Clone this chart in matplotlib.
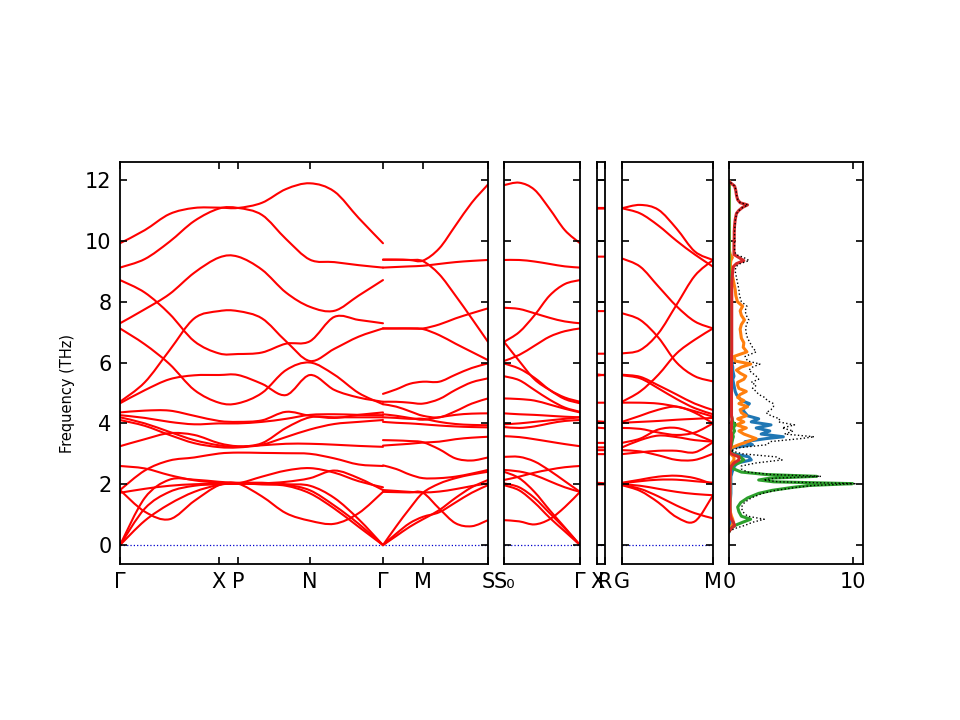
import numpy as np
import matplotlib
matplotlib.use("Agg")
import matplotlib.pyplot as plt
from matplotlib.path import Path
from matplotlib.patches import PathPatch

# ---------------- high-symmetry paths (distances along q-path) ----------------
p1_labels = ["Γ", "X", "P", "N", "Γ", "M", "S"]
p1_pos = [0.0, 0.99, 1.18, 1.90, 2.63, 3.03, 3.68]
p2_labels = ["S₀", "Γ"]
p2_pos = [0.0, 0.76]
p3_labels = ["X", "R"]
p3_pos = [0.0, 0.08]
p4_labels = ["G", "M"]
p4_pos = [0.0, 0.91]

# sample fractions along each segment where frequencies were read
fr_GX = [0.0, 0.25, 0.5, 0.75, 1.0]
fr_PN = [1 / 3, 2 / 3, 1.0]
fr_NG = [1 / 3, 2 / 3, 1.0]
fr_GM = [0.0, 1 / 3, 2 / 3, 1.0]
fr_MS = [0.25, 0.5, 0.75, 1.0]
fr_5 = [0.0, 0.2, 0.4, 0.6, 0.8, 1.0]

# ---------------- bands: Γ-X-P-N-Γ (THz) ----------------
bands_A = [
    [9.92, 10.35, 10.88, 11.08, 11.09, 11.08, 11.25, 11.70, 11.89, 11.62, 10.75, 9.92],
    [9.12, 9.40, 9.97, 10.65, 11.06, 11.08, 10.85, 10.06, 9.38, 9.30, 9.20, 9.12],
    [7.29, 7.75, 8.25, 8.95, 9.45, 9.48, 9.05, 8.30, 7.83, 7.70, 8.20, 8.71],
    [8.71, 8.30, 7.60, 6.70, 6.30, 6.28, 6.33, 6.62, 6.70, 7.50, 7.40, 7.29],
    [4.71, 5.35, 6.40, 7.45, 7.69, 7.69, 7.45, 6.70, 6.05, 6.45, 6.85, 7.12],
    [7.12, 6.60, 5.95, 5.10, 4.68, 4.66, 5.00, 5.75, 6.00, 5.60, 5.00, 4.63],
    [4.66, 5.09, 5.45, 5.58, 5.59, 5.59, 5.30, 4.93, 5.59, 5.10, 4.85, 4.71],
    [4.36, 4.42, 4.42, 4.25, 4.08, 4.05, 4.10, 4.38, 4.25, 4.18, 4.28, 4.36],
    [4.27, 4.18, 4.05, 3.97, 4.00, 4.00, 4.05, 4.15, 4.28, 4.30, 4.28, 4.27],
    [4.20, 4.00, 3.72, 3.45, 3.28, 3.23, 3.35, 3.85, 4.20, 4.20, 4.20, 4.20],
    [4.11, 3.92, 3.62, 3.35, 3.22, 3.21, 3.30, 3.55, 3.80, 3.98, 4.05, 4.11],
    [3.25, 3.48, 3.68, 3.62, 3.35, 3.25, 3.28, 3.33, 3.33, 3.30, 3.26, 3.23],
    [1.81, 2.45, 2.78, 2.88, 3.01, 3.04, 3.03, 3.02, 3.00, 2.85, 2.65, 2.60],
    [2.60, 2.52, 2.30, 2.13, 2.05, 2.03, 2.25, 2.45, 2.53, 2.38, 2.10, 1.90],
    [1.72, 1.85, 1.95, 2.00, 2.02, 2.02, 2.03, 2.08, 2.20, 2.45, 2.20, 1.81],
    [1.81, 1.10, 0.85, 1.45, 1.97, 2.02, 1.60, 1.05, 0.80, 0.70, 1.05, 1.75],
    [0.00, 1.20, 1.75, 1.95, 2.00, 2.02, 2.00, 1.98, 1.80, 1.30, 0.70, 0.00],
    [0.00, 0.80, 1.35, 1.75, 1.98, 2.02, 2.00, 1.95, 1.70, 1.20, 0.60, 0.00],
    [0.00, 1.55, 2.15, 2.15, 2.08, 2.05, 2.05, 2.00, 1.95, 1.55, 0.85, 0.00],
]

# ---------------- bands: Γ-M-S ----------------
bands_B = [
    [9.38, 9.38, 9.37, 9.33, 8.90, 8.20, 7.45, 6.68],
    [9.38, 9.38, 9.37, 9.35, 9.75, 10.50, 11.25, 11.85],
    [9.12, 9.14, 9.16, 9.18, 9.24, 9.30, 9.34, 9.37],
    [7.12, 7.12, 7.12, 7.12, 7.25, 7.45, 7.62, 7.78],
    [7.12, 7.12, 7.12, 7.10, 6.90, 6.62, 6.35, 6.08],
    [4.97, 5.12, 5.30, 5.37, 5.37, 5.60, 5.82, 5.97],
    [4.71, 4.71, 4.68, 4.65, 4.80, 5.10, 5.35, 5.48],
    [4.63, 4.55, 4.40, 4.25, 4.20, 4.40, 4.65, 4.82],
    [4.30, 4.25, 4.18, 4.12, 4.20, 4.28, 4.32, 4.33],
    [4.20, 4.18, 4.15, 4.15, 4.05, 3.98, 3.95, 3.94],
    [4.05, 4.02, 4.00, 3.97, 3.93, 3.90, 3.88, 3.87],
    [3.45, 3.44, 3.42, 3.38, 3.15, 2.85, 2.78, 2.88],
    [3.27, 3.30, 3.33, 3.37, 3.40, 3.48, 3.53, 3.56],
    [2.62, 2.50, 2.32, 2.20, 2.20, 2.25, 2.35, 2.47],
    [1.75, 1.74, 1.73, 1.72, 1.20, 0.72, 0.62, 0.82],
    [1.81, 1.78, 1.75, 1.73, 1.76, 1.84, 1.94, 2.03],
    [0.00, 0.62, 1.20, 1.72, 2.02, 2.20, 2.32, 2.41],
    [0.00, 0.38, 0.72, 0.93, 1.08, 1.40, 1.72, 1.97],
    [0.00, 0.30, 0.60, 0.85, 1.15, 1.55, 1.90, 2.14],
]

# ---------------- bands: S0-Γ ----------------
bands_C = [
    [11.83, 11.91, 11.68, 11.05, 10.35, 9.92],
    [9.37, 9.37, 9.32, 9.24, 9.16, 9.12],
    [6.68, 7.00, 7.55, 8.20, 8.58, 8.71],
    [7.80, 7.76, 7.62, 7.47, 7.35, 7.29],
    [6.05, 6.25, 6.55, 6.85, 7.03, 7.12],
    [6.68, 6.05, 5.45, 5.10, 4.85, 4.71],
    [5.97, 5.80, 5.50, 5.10, 4.80, 4.66],
    [5.55, 5.42, 5.10, 4.78, 4.52, 4.38],
    [4.82, 4.80, 4.75, 4.62, 4.48, 4.36],
    [4.33, 4.30, 4.28, 4.25, 4.22, 4.20],
    [3.97, 4.00, 4.05, 4.10, 4.15, 4.20],
    [3.88, 3.85, 3.90, 4.00, 4.08, 4.11],
    [3.58, 3.55, 3.48, 3.40, 3.32, 3.25],
    [2.90, 2.90, 2.75, 2.45, 2.10, 1.75],
    [2.14, 2.25, 2.38, 2.48, 2.56, 2.60],
    [2.47, 2.42, 2.30, 2.10, 1.90, 1.75],
    [0.82, 0.78, 0.68, 0.85, 1.25, 1.75],
    [2.03, 1.90, 1.55, 1.05, 0.55, 0.00],
    [1.97, 1.80, 1.40, 0.90, 0.45, 0.00],
    [2.41, 2.20, 1.75, 1.15, 0.58, 0.00],
]

# ---------------- bands: X-R ----------------
bands_D = [
    [11.08, 11.08], [11.06, 11.06], [9.48, 9.48], [7.69, 7.69], [6.29, 6.29],
    [5.61, 5.58], [5.57, 5.60], [4.68, 4.68], [4.07, 4.05], [4.01, 4.02],
    [3.86, 3.84], [3.36, 3.36], [3.21, 3.21], [3.12, 3.12], [2.99, 2.99],
    [2.05, 2.03], [2.02, 2.00], [1.99, 2.00],
]

# ---------------- bands: G-M ----------------
bands_E = [
    [11.07, 11.18, 11.02, 10.40, 9.65, 9.37],
    [11.07, 10.90, 10.50, 10.00, 9.55, 9.15],
    [9.42, 9.15, 8.50, 7.85, 7.35, 7.12],
    [7.62, 7.40, 6.82, 6.00, 5.55, 5.38],
    [6.30, 6.41, 6.96, 7.90, 8.85, 9.37],
    [4.71, 5.05, 5.60, 6.30, 6.75, 7.12],
    [5.60, 5.53, 5.25, 4.95, 4.65, 4.44],
    [5.58, 5.48, 5.15, 4.80, 4.50, 4.30],
    [4.68, 4.68, 4.65, 4.55, 4.40, 4.22],
    [4.05, 4.25, 4.45, 4.55, 4.35, 4.00],
    [4.02, 4.05, 4.08, 4.12, 4.15, 4.18],
    [3.85, 3.82, 3.70, 3.62, 3.70, 4.00],
    [3.36, 3.50, 3.80, 3.85, 3.65, 3.40],
    [3.21, 3.45, 3.60, 3.55, 3.45, 3.40],
    [3.12, 3.08, 2.95, 2.80, 2.80, 3.00],
    [2.99, 3.05, 3.10, 3.10, 3.05, 3.38],
    [2.05, 2.15, 2.25, 2.28, 2.20, 2.00],
    [2.03, 2.10, 2.15, 2.15, 2.10, 2.05],
    [2.00, 1.95, 1.85, 1.75, 1.68, 1.64],
    [1.98, 1.85, 1.60, 1.30, 1.05, 0.88],
    [1.97, 1.78, 1.40, 0.92, 0.78, 1.64],
]

# ---------------- projected DOS ----------------
dos_freq = [
    0.45, 0.55, 0.65, 0.75, 0.85, 0.95, 1.1, 1.25, 1.4, 1.55,
    1.7, 1.8, 1.9, 1.96, 2.02, 2.08, 2.14, 2.2, 2.26, 2.32,
    2.4, 2.5, 2.6, 2.7, 2.8, 2.9, 3.0, 3.1, 3.2, 3.3,
    3.4, 3.5, 3.56, 3.65, 3.75, 3.85, 3.95, 4.05, 4.15, 4.25,
    4.35, 4.45, 4.55, 4.65, 4.75, 4.85, 4.95, 5.05, 5.15, 5.25,
    5.35, 5.45, 5.55, 5.65, 5.75, 5.85, 5.95, 6.05, 6.2, 6.35,
    6.5, 6.65, 6.8, 6.95, 7.1, 7.25, 7.4, 7.55, 7.7, 7.85,
    8.0, 8.2, 8.4, 8.6, 8.8, 9.0, 9.15, 9.25, 9.35, 9.45,
    9.55, 9.7, 9.9, 10.1, 10.3, 10.5, 10.7, 10.9, 11.0, 11.1,
    11.18, 11.25, 11.35, 11.5, 11.65, 11.8, 11.88, 11.95,
]
dos_blue = [
    0.0, 0.03, 0.08, 0.1, 0.1, 0.1, 0.1, 0.1, 0.1, 0.12,
    0.15, 0.15, 0.15, 0.15, 0.15, 0.15, 0.15, 0.15, 0.15, 0.2,
    0.25, 0.35, 0.45, 0.7, 1.8, 1.6, 0.4, 0.05, 0.3, 1.9,
    1.3, 3.0, 4.4, 2.6, 3.3, 2.2, 3.4, 1.8, 2.4, 1.5,
    1.3, 1.1, 1.4, 1.65, 1.0, 0.8, 0.6, 0.5, 0.45, 0.4,
    0.35, 0.3, 0.4, 0.35, 0.3, 0.3, 0.25, 0.25, 0.2, 0.2,
    0.15, 0.15, 0.12, 0.1, 0.1, 0.1, 0.08, 0.08, 0.06, 0.06,
    0.05, 0.05, 0.04, 0.04, 0.03, 0.03, 0.03, 0.03, 0.03, 0.03,
    0.02, 0.02, 0.02, 0.02, 0.02, 0.02, 0.02, 0.02, 0.02, 0.02,
    0.02, 0.02, 0.02, 0.02, 0.02, 0.02, 0.02, 0.0,
]
dos_orange = [
    0.0, 0.1, 0.25, 0.35, 0.3, 0.2, 0.1, 0.08, 0.08, 0.08,
    0.08, 0.08, 0.08, 0.08, 0.08, 0.08, 0.08, 0.08, 0.08, 0.1,
    0.1, 0.1, 0.12, 0.2, 0.4, 0.4, 0.1, 0.02, 0.2, 0.8,
    1.5, 2.2, 1.8, 1.2, 0.8, 1.4, 0.6, 1.2, 0.7, 1.4,
    1.0, 0.9, 1.5, 0.8, 1.2, 0.7, 0.9, 1.4, 0.8, 0.7,
    0.7, 1.2, 1.36, 0.9, 0.6, 1.0, 1.76, 0.5, 0.4, 1.45,
    1.15, 1.2, 1.0, 0.95, 0.9, 1.0, 1.25, 1.0, 0.9, 1.1,
    0.68, 0.55, 0.5, 0.4, 0.3, 0.15, 0.12, 0.12, 0.15, 0.27,
    0.1, 0.02, 0.01, 0.01, 0.01, 0.01, 0.01, 0.01, 0.01, 0.01,
    0.01, 0.01, 0.01, 0.01, 0.01, 0.01, 0.01, 0.0,
]
dos_green = [
    0.0, 0.15, 0.5, 1.1, 1.75, 1.0, 0.8, 0.7, 0.95, 1.5,
    2.4, 3.5, 5.2, 6.5, 10.0, 3.6, 2.4, 3.3, 7.1, 3.0,
    1.0, 0.4, 0.2, 0.8, 1.2, 0.9, 0.3, 0.05, 0.1, 0.2,
    0.25, 0.3, 0.35, 0.3, 0.45, 0.35, 0.5, 0.3, 0.25, 0.2,
    0.15, 0.15, 0.12, 0.1, 0.1, 0.08, 0.08, 0.06, 0.06, 0.05,
    0.05, 0.05, 0.05, 0.05, 0.05, 0.05, 0.05, 0.05, 0.05, 0.04,
    0.04, 0.04, 0.04, 0.03, 0.03, 0.03, 0.03, 0.03, 0.02, 0.02,
    0.02, 0.02, 0.02, 0.02, 0.02, 0.02, 0.02, 0.02, 0.02, 0.02,
    0.01, 0.01, 0.01, 0.01, 0.01, 0.01, 0.01, 0.01, 0.01, 0.01,
    0.01, 0.01, 0.01, 0.01, 0.01, 0.01, 0.01, 0.0,
]
dos_red = [
    0.0, 0.2, 0.45, 0.35, 0.2, 0.12, 0.08, 0.06, 0.06, 0.06,
    0.06, 0.06, 0.06, 0.06, 0.06, 0.06, 0.06, 0.06, 0.06, 0.08,
    0.1, 0.12, 0.2, 0.4, 0.8, 0.8, 0.2, 0.03, 0.1, 0.15,
    0.15, 0.2, 0.2, 0.2, 0.15, 0.2, 0.2, 0.2, 0.25, 0.2,
    0.2, 0.2, 0.2, 0.2, 0.2, 0.2, 0.2, 0.2, 0.2, 0.2,
    0.2, 0.2, 0.2, 0.2, 0.2, 0.2, 0.2, 0.2, 0.2, 0.22,
    0.22, 0.22, 0.22, 0.22, 0.22, 0.22, 0.22, 0.22, 0.22, 0.22,
    0.22, 0.22, 0.22, 0.22, 0.25, 0.3, 0.35, 0.6, 1.2, 0.8,
    0.4, 0.4, 0.4, 0.42, 0.42, 0.45, 0.5, 0.6, 0.8, 1.1,
    1.5, 0.9, 0.7, 0.6, 0.55, 0.45, 0.2, 0.0,
]
dos_total = [
    0.0, 0.5, 1.3, 1.9, 2.85, 1.5, 1.1, 1.0, 1.25, 1.8,
    2.7, 3.8, 5.5, 6.8, 10.3, 4.0, 2.8, 3.7, 7.45, 3.4,
    1.5, 1.0, 1.0, 2.2, 4.3, 3.8, 1.1, 0.15, 0.8, 3.1,
    3.3, 5.8, 6.9, 4.5, 5.2, 4.3, 5.3, 4.0, 4.1, 3.4,
    3.0, 3.4, 3.6, 3.6, 3.1, 2.9, 2.4, 2.2, 1.9, 2.2,
    1.8, 2.4, 2.2, 1.9, 1.6, 1.9, 2.5, 1.5, 1.3, 2.2,
    1.9, 1.7, 1.5, 1.4, 1.35, 1.4, 1.6, 1.4, 1.3, 1.45,
    1.0, 0.85, 0.8, 0.7, 0.6, 0.5, 0.55, 0.9, 1.63, 1.2,
    0.55, 0.45, 0.45, 0.45, 0.45, 0.48, 0.52, 0.62, 0.82, 1.12,
    1.52, 0.92, 0.72, 0.62, 0.57, 0.47, 0.22, 0.0,
]

# ---------------- helpers ----------------
def seg(a, b, fracs):
    return [a + f * (b - a) for f in fracs]


def smooth_path(xs, ys):
    pts = np.column_stack([xs, ys]).astype(float)
    n = len(pts)
    verts = [pts[0]]
    codes = [Path.MOVETO]
    for i in range(n - 1):
        p0 = pts[max(i - 1, 0)]
        p1 = pts[i]
        p2 = pts[i + 1]
        p3 = pts[min(i + 2, n - 1)]
        verts += [p1 + (p2 - p0) / 6.0, p2 - (p3 - p1) / 6.0, p2]
        codes += [Path.CURVE4] * 3
    return Path(verts, codes)


def draw_bands(ax, q, bands):
    for b in bands:
        ax.add_patch(PathPatch(smooth_path(q, b), facecolor="none",
                               edgecolor="red", lw=1.5, capstyle="round"))


qA = (seg(p1_pos[0], p1_pos[1], fr_GX) + [p1_pos[2]]
      + seg(p1_pos[2], p1_pos[3], fr_PN) + seg(p1_pos[3], p1_pos[4], fr_NG))
qB = seg(p1_pos[4], p1_pos[5], fr_GM) + seg(p1_pos[5], p1_pos[6], fr_MS)
qC = seg(p2_pos[0], p2_pos[1], fr_5)
qD = list(p3_pos)
qE = seg(p4_pos[0], p4_pos[1], fr_5)

# ---------------- figure ----------------
fig = plt.figure(figsize=(9.6, 7.2), dpi=100)
bot, hgt = 0.2167, 0.5583
ax1 = fig.add_axes([0.1250, bot, 0.3833, hgt])
ax2 = fig.add_axes([0.5250, bot, 0.0792, hgt])
ax3 = fig.add_axes([0.6219, bot, 0.00833, hgt])
ax4 = fig.add_axes([0.6479, bot, 0.0948, hgt])
ax5 = fig.add_axes([0.7594, bot, 0.1396, hgt])

ylim = (-0.62, 12.59)
yt = [0, 2, 4, 6, 8, 10, 12]

draw_bands(ax1, qA, bands_A)
draw_bands(ax1, qB, bands_B)
draw_bands(ax2, qC, bands_C)
draw_bands(ax3, qD, bands_D)
draw_bands(ax4, qE, bands_E)

for ax, pos, labs in [(ax1, p1_pos, p1_labels), (ax2, p2_pos, p2_labels),
                      (ax3, p3_pos, p3_labels), (ax4, p4_pos, p4_labels)]:
    ax.set_xlim(pos[0], pos[-1])
    ax.set_xticks(pos)
    ax.set_xticklabels(labs)
    ax.axhline(0, color="#0000cc", ls=":", lw=0.9, zorder=0)

ax5.plot(dos_blue, dos_freq, color="C0", lw=2.2)
ax5.plot(dos_orange, dos_freq, color="C1", lw=2.2)
ax5.plot(dos_green, dos_freq, color="C2", lw=2.2)
ax5.plot(dos_red, dos_freq, color="C3", lw=2.2)
ax5.plot(dos_total, dos_freq, color="black", ls=":", lw=1)
ax5.set_xlim(0, 10.85)
ax5.set_xticks([0, 10])

for i, ax in enumerate([ax1, ax2, ax3, ax4, ax5]):
    ax.set_ylim(*ylim)
    ax.set_yticks(yt)
    ax.tick_params(direction="in", top=True, right=True, length=5.25,
                   width=1.2, labelsize=15, pad=6)
    if i > 0:
        ax.tick_params(labelleft=False)
    for s in ax.spines.values():
        s.set_linewidth(1.3)

fig.text(0.070, 0.453, "Frequency (THz)", rotation=90, fontsize=10.5,
         ha="center", va="center")

fig.savefig("out.png", dpi=100)
